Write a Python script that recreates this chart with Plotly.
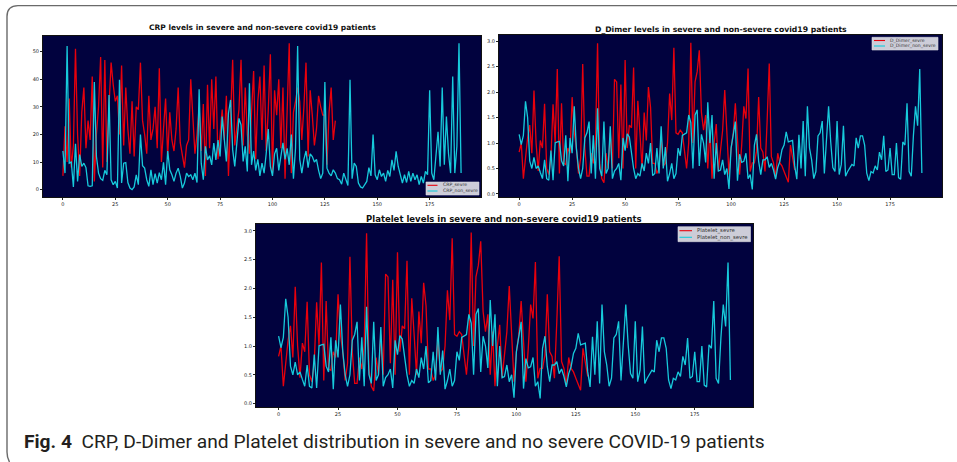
import plotly.graph_objects as go

W, H = 957, 462

# ---------------- data ----------------
crp_severe = [
    5, 23, 10, 33, 8, 16, 51, 20, 5, 28, 37, 15, 25, 18, 41, 3, 20, 30, 48, 8,
    47, 10, 30, 46, 38, 32, 34, 20, 45, 16, 37, 22, 13, 32, 12, 30, 29, 46, 25, 20,
    13, 34, 18, 22, 30, 15, 44, 10, 22, 33, 12, 28, 18, 14, 22, 37, 17, 12, 8, 16,
    18, 40, 25, 13, 20, 30, 14, 31, 5, 38, 15, 40, 22, 41, 11, 20, 29, 18, 34, 5,
    25, 47, 16, 22, 29, 47, 16, 37, 20, 13, 29, 43, 11, 32, 41, 18, 45, 14, 29, 49,
    6, 36, 27, 40, 15, 37, 4, 25, 53, 6, 28, 32, 37, 32, 18, 30, 46, 12, 36, 27,
    16, 22, 34, 30, 27, 27, 9, 28, 37, 18, 25,
]
crp_non_severe = [
    14, 6, 52, 9.6, 10, 1, 16.6, 3, 12.7, 8.4, 9.6, 8, 1.4, 1.2, 1.4, 39, 12, 6, 4, 3.4,
    7, 5.4, 34.3, 3.6, 1.8, 3, 0.6, 39.8, 2.4, 9.6, 9.8, 2.6, 0.6, 0, 1, 5.4, 1.8, 20, 8.7, 7.8,
    3.6, 1.2, 7.2, 1.8, 5.8, 2.4, 6.2, 3.6, 9.9, 1.8, 14, 7.2, 5.4, 3, 6, 7.8, 4.8, 0.6, 2.4, 6,
    4.8, 5.4, 3.6, 6, 2.6, 36.4, 9.6, 3.6, 15.7, 10.8, 12.3, 9, 16.9, 10.8, 18, 12, 26.5, 18, 10.2, 27.7,
    32.5, 14.5, 8.4, 16.9, 25.8, 23.5, 10.2, 15.7, 6.6, 38.5, 9, 14, 7, 11, 5, 9.6, 6, 13, 22, 8.4,
    5, 13, 15, 7, 12, 17, 11, 15, 9, 20, 4, 15, 52, 11, 6, 11, 14, 8, 13, 12,
    10, 11, 7, 4, 6, 39, 7.8, 6, 5, 7.2, 6, 4, 3.6, 2, 6, 4, 1.5, 39.8, 4, 9.6,
    8.4, 2.4, 1, 0.6, 1.8, 3, 8, 5, 20, 5.4, 3.6, 7.2, 4.8, 6, 3, 7, 4.8, 10.8, 7, 13.9,
    8.4, 4.8, 2.4, 5.4, 2.6, 6.6, 3, 6, 3.6, 5.4, 1.8, 4.8, 2.4, 6.6, 5.4, 36, 6, 3.6, 14, 21,
    8.4, 37, 9, 26.5, 13, 6, 41, 6, 15.7, 53, 6,
]

d_dimer_severe = [
    0.82, 1.0, 0.3, 0.75, 1.1, 1.35, 0.8, 2.03, 1.0, 0.45, 1.05, 0.9, 1.77, 0.5, 0.38, 0.7, 1.76, 1.0, 2.45, 0.4,
    1.78, 0.6, 0.58, 0.9, 0.8, 1.9, 1.2, 0.9, 0.4, 0.7, 2.55, 0.9, 0.35, 0.35, 0.8, 0.6, 1.0, 2.96, 0.6, 0.3,
    0.22, 0.8, 0.5, 1.2, 0.5, 2.25, 2.2, 0.7, 2.15, 0.5, 2.63, 0.9, 1.35, 1.3, 2.48, 0.5, 1.83, 1.2, 0.5, 1.6,
    1.05, 2.1, 1.7, 0.6, 0.6, 0.4, 0.5, 1.1, 0.55, 0.6, 1.0, 1.97, 1.45, 2.87, 1.2, 1.17, 1.25, 1.2, 0.85, 0.5,
    1.0, 2.97, 1.0, 2.2, 2.4, 2.82, 1.6, 1.25, 1.55, 0.5, 1.25, 0.3, 1.0, 1.37, 0.45, 0.85, 1.25, 2.04, 1.08, 0.38,
    0.9, 1.19, 1.78, 0.96, 0.38, 0.96, 1.72, 1.48, 2.46, 0.44, 0.61, 0.61, 0.84, 1.9, 0.9, 0.82, 0.44, 1.43, 2.56, 0.73,
    0.61, 0.32, 0.8, 0.61, 0.55, 0.44, 0.32, 0.23, 0.96, 0.67, 0.47,
]
d_dimer_non_severe = [
    1.17, 0.97, 1.15, 1.82, 1.5, 0.65, 0.5, 0.72, 0.5, 0.55, 0.42, 0.3, 0.67, 0.3, 0.27, 0.85, 0.27, 1.0, 1.02, 1.03,
    0.65, 0.55, 1.15, 0.25, 1.1, 0.8, 1.72, 0.9, 0.5, 0.3, 0.5, 1.1, 1.2, 1.42, 0.4, 1.15, 0.3, 1.68, 0.5, 0.35,
    1.42, 0.4, 0.5, 1.33, 0.3, 0.45, 0.5, 0.6, 0.27, 1.1, 0.85, 1.18, 1.12, 0.8, 0.5, 0.3, 0.4, 0.35, 0.6, 0.45,
    0.8, 0.6, 1.0, 0.36, 0.4, 0.9, 0.4, 1.33, 0.5, 0.92, 0.25, 0.4, 0.6, 0.3, 0.4, 0.9, 0.75, 1.15, 1.17, 1.2,
    1.55, 1.4, 0.5, 1.55, 1.65, 0.55, 1.17, 1.0, 0.62, 1.8, 1.0, 1.55, 0.3, 1.0, 0.45, 0.47, 0.67, 0.38, 0.5, 0.1,
    0.9, 1.17, 1.42, 0.26, 0.78, 0.62, 0.64, 0.8, 0.3, 0.38, 0.09, 0.96, 1.17, 0.64, 0.38, 0.67, 0.67, 0.73, 0.52, 0.6,
    0.47, 0.29, 0.52, 0.64, 0.87, 0.96, 1.22, 1.02, 1.03, 1.05, 0.55, 0.29, 1.16, 0.5, 1.43, 0.35, 1.72, 0.9, 0.67, 0.3,
    0.44, 1.14, 1.2, 1.43, 0.4, 1.16, 1.72, 1.02, 0.52, 0.44, 1.43, 0.38, 0.58, 1.34, 0.35, 0.44, 0.5, 0.58, 0.55, 1.1,
    0.9, 1.14, 1.14, 0.96, 0.41, 0.26, 0.44, 0.41, 0.55, 0.47, 0.82, 0.67, 1.14, 0.44, 0.47, 0.9, 0.38, 0.38, 1.0, 0.32,
    0.29, 1.02, 0.96, 1.78, 0.44, 0.35, 1.14, 1.72, 1.34, 2.45, 0.41,
]

# the platelet panel carries the same series as the D-Dimer panel
platelet_severe = list(d_dimer_severe)
platelet_non_severe = list(d_dimer_non_severe)

x_ticks = [0, 25, 50, 75, 100, 125, 150, 175]
crp_ticks = [0, 10, 20, 30, 40, 50]
ratio_ticks = [0.0, 0.5, 1.0, 1.5, 2.0, 2.5, 3.0]
ratio_tick_text = ["0.0", "0.5", "1.0", "1.5", "2.0", "2.5", "3.0"]

titles = [
    "CRP levels in severe and non-severe covid19 patients",
    "D_Dimer levels in severe and non-severe covid19 patients",
    "Platelet levels in severe and non-severe covid19 patients",
]
legend_names = [
    ("CRP_sevre", "CRP_non_sevre"),
    ("D_Dimer_sevre", "D_Dimer_non_sevre"),
    ("Platelet_sevre", "Platelet_non_sevre"),
]
caption_label = "Fig. 4"
caption_text = "CRP, D-Dimer and Platelet distribution in severe and no severe COVID-19 patients"

# ---------------- styling ----------------
RED = "#e8000c"
CYAN = "#17cadb"
NAVY = "#01023e"
TICK_FONT = dict(family="DejaVu Sans", size=5, color="#222222")


def px(x):
    return x / W


def py(y):
    return 1 - y / H


# plot boxes in pixels: (left, top, right, bottom)
boxes = [
    (43, 36, 481, 197),
    (499, 35, 942, 197),
    (256, 224, 753, 407),
]

fig = go.Figure()

series = [
    (crp_severe, crp_non_severe),
    (d_dimer_severe, d_dimer_non_severe),
    (platelet_severe, platelet_non_severe),
]
for k, (sev, non) in enumerate(series):
    suffix = "" if k == 0 else str(k + 1)
    fig.add_trace(go.Scatter(
        x=list(range(len(sev))), y=sev, mode="lines", name=legend_names[k][0],
        line=dict(color=RED, width=1.3), xaxis="x" + suffix, yaxis="y" + suffix,
        showlegend=False,
    ))
    fig.add_trace(go.Scatter(
        x=list(range(len(non))), y=non, mode="lines", name=legend_names[k][1],
        line=dict(color=CYAN, width=1.3), xaxis="x" + suffix, yaxis="y" + suffix,
        showlegend=False,
    ))

axis_common = dict(
    showgrid=False, zeroline=False, showline=True, linecolor="#111111", linewidth=1,
    mirror=True, ticks="outside", ticklen=2, tickwidth=0.8, tickcolor="#222222",
    tickfont=TICK_FONT,
)

layout = dict(
    width=W, height=H, margin=dict(l=0, r=0, t=0, b=0),
    paper_bgcolor="white", plot_bgcolor=NAVY, showlegend=False,
)
y_ranges = [[-2.65, 55.65], [-0.06, 3.12], [-0.06, 3.12]]
for k, (l, t, r, b) in enumerate(boxes):
    suffix = "" if k == 0 else str(k + 1)
    layout["xaxis" + suffix] = dict(
        axis_common, domain=[px(l), px(r)], range=[-9.5, 199.5],
        tickvals=x_ticks, anchor="y" + suffix,
    )
    yax = dict(axis_common, domain=[py(b), py(t)], range=y_ranges[k], anchor="x" + suffix)
    if k == 0:
        yax["tickvals"] = crp_ticks
    else:
        yax["tickvals"] = ratio_ticks
        yax["ticktext"] = ratio_tick_text
    layout["yaxis" + suffix] = yax

fig.update_layout(**layout)

annotations = []
shapes = []

# panel titles
title_sizes = [7.5, 7.7, 8.5]
title_y = [28, 29, 218.5]
for k, (l, t, r, b) in enumerate(boxes):
    annotations.append(dict(
        text="<b>" + titles[k] + "</b>", x=px((l + r) / 2), y=py(title_y[k]),
        xref="paper", yref="paper", xanchor="center", yanchor="middle",
        showarrow=False, font=dict(family="DejaVu Sans", size=title_sizes[k], color="#111111"),
    ))

# legend boxes: (left, top, right, bottom, line_x0, line_x1, row1_y, row2_y, text_x, font)
legend_boxes = [
    (426, 182, 479, 195, 427.5, 437.5, 185.3, 191.0, 441, 4.6),
    (872, 37.3, 938, 50, 874, 885, 40.5, 46.0, 888, 4.6),
    (678, 226.7, 750.5, 241.7, 679.5, 692, 230.7, 237.3, 695, 5.4),
]
for k, (l, t, r, b, lx0, lx1, r1, r2, tx, fs) in enumerate(legend_boxes):
    shapes.append(dict(
        type="rect", xref="paper", yref="paper", x0=px(l), x1=px(r), y0=py(b), y1=py(t),
        fillcolor="#cdcdd8", line=dict(color="#d8d8e0", width=0.6), layer="above",
    ))
    for yy, col, label in ((r1, RED, legend_names[k][0]), (r2, CYAN, legend_names[k][1])):
        shapes.append(dict(
            type="line", xref="paper", yref="paper", x0=px(lx0), x1=px(lx1),
            y0=py(yy), y1=py(yy), line=dict(color=col, width=1.1), layer="above",
        ))
        annotations.append(dict(
            text=label, x=px(tx), y=py(yy), xref="paper", yref="paper",
            xanchor="left", yanchor="middle", showarrow=False,
            font=dict(family="DejaVu Sans", size=fs, color="#333333"),
        ))

# figure caption
annotations.append(dict(
    text="<b>" + caption_label + "</b>  " + caption_text,
    x=px(22), y=py(441), xref="paper", yref="paper", xanchor="left", yanchor="middle",
    showarrow=False, font=dict(family="Roboto", size=19.2, color="#231f20"),
))

# outer frame with a rounded top-left corner
frame_path = "M {x1},{y0} L {xa},{y0} Q {xl},{y0} {xl},{ya} L {xl},{yb} Q {xl},{yc} {xe},{yd}".format(
    x1=px(957), y0=py(5.6), xa=px(18), xl=px(7.0), ya=py(16.5), yb=py(452),
    yc=py(458), xe=px(9.5), yd=py(462),
)
shapes.append(dict(
    type="path", xref="paper", yref="paper", path=frame_path,
    line=dict(color="#6a6a6a", width=1.4),
))

fig.update_layout(annotations=annotations, shapes=shapes)
fig.write_html("out.html")
